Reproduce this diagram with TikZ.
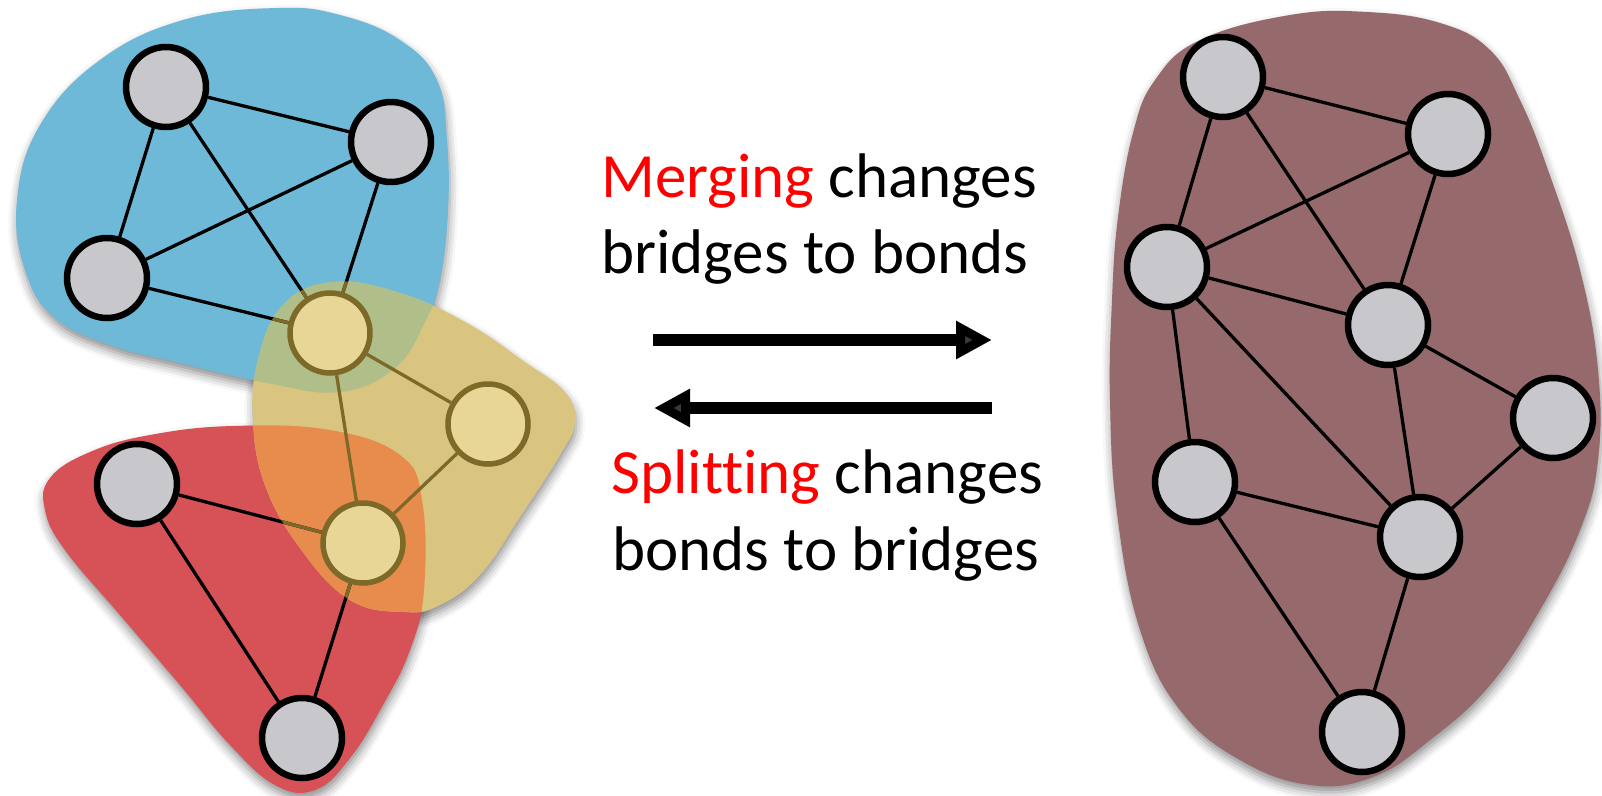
\documentclass[tikz,border=0pt]{standalone}
\usepackage{fontspec}
\setmainfont{Carlito}[Ligatures={NoCommon}]
\usetikzlibrary{arrows.meta,shadows.blur}
\pgfdeclarelayer{blobs}
\pgfdeclarelayer{links}
\pgfsetlayers{blobs,links,main}

\definecolor{cblue}{RGB}{110,185,215}
\definecolor{cred}{RGB}{214,82,86}
\definecolor{cyellow}{RGB}{218,197,128}
\definecolor{cgreen}{RGB}{176,190,138}
\definecolor{corange}{RGB}{232,140,78}
\definecolor{cmauve}{RGB}{150,106,108}
\definecolor{cgrey}{RGB}{200,200,204}
\definecolor{colive}{RGB}{125,105,40}
\definecolor{cpale}{RGB}{231,214,150}
\definecolor{cword}{RGB}{255,0,0}

\newcommand{\blueblob}{plot[smooth cycle,tension=0.7] coordinates {(277,8) (340,15) (400,40) (437,80) (447,140) (448,210) (440,280) (425,322) (395,368) (340,392) (267,383) (167,360) (110,345) (55,318) (25,270) (17,200) (40,125) (100,60) (183,20)}}
\newcommand{\yellowblob}{plot[smooth cycle,tension=0.7] coordinates {(253,420) (258,360) (283,305) (333,282) (400,293) (467,323) (525,362) (565,392) (575,422) (560,455) (520,517) (480,575) (440,605) (405,612) (350,600) (300,548) (265,485)}}
\newcommand{\redblob}{plot[smooth cycle,tension=0.7] coordinates {(50,478) (90,452) (150,435) (233,426) (330,430) (400,455) (422,500) (424,590) (410,650) (383,705) (350,758) (315,790) (275,785) (230,745) (180,685) (120,615) (65,550) (45,510)}}
\newcommand{\mauveblob}{plot[smooth cycle,tension=0.7] coordinates {(1112,300) (1118,217) (1133,133) (1155,80) (1200,40) (1290,15) (1367,12) (1440,23) (1490,50) (1520,100) (1548,170) (1580,270) (1598,370) (1598,460) (1580,530) (1540,610) (1490,685) (1430,740) (1373,777) (1310,785) (1240,760) (1180,710) (1140,630) (1117,513) (1110,400)}}

\begin{document}
\begin{tikzpicture}[x=1pt,y=-1pt,line cap=round,line join=round,
  vtx/.style={circle,draw=black,fill=cgrey,line width=6.5pt,minimum size=80pt,inner sep=0pt},
  yvtx/.style={vtx,draw=colive,fill=cpale,line width=5.5pt},
  link/.style={line width=3.3pt,black},
  ylink/.style={line width=3.3pt,colive},
  lbl/.style={font=\fontsize{63}{75}\selectfont,anchor=base west,inner sep=0pt},
  bigarrow/.style={line width=12pt,line cap=butt,-{Triangle[length=36pt,width=36pt]}},
  blobshadow/.style={blur shadow={shadow xshift=1pt,shadow yshift=-6pt,shadow blur radius=9pt,shadow opacity=45}}]
\useasboundingbox (0,0) rectangle (1602,795);

% left: three groups
\node[vtx] (b1) at (166,87) {};
\node[vtx] (b2) at (391,142) {};
\node[vtx] (b3) at (107,278) {};
\node[yvtx] (y1) at (330,333) {};
\node[yvtx] (y2) at (488,424) {};
\node[yvtx] (y3) at (363,543) {};
\node[vtx] (r1) at (137,484) {};
\node[vtx] (r2) at (302,738) {};

% right: merged group
\node[vtx] (m1) at (1223,77) {};
\node[vtx] (m2) at (1448,134) {};
\node[vtx] (m3) at (1167,267) {};
\node[vtx] (m4) at (1388,325) {};
\node[vtx] (m5) at (1553,418) {};
\node[vtx] (m6) at (1195,482) {};
\node[vtx] (m7) at (1420,537) {};
\node[vtx] (m8) at (1362,732) {};

\begin{pgfonlayer}{blobs}
\path[blobshadow] \blueblob;
\path[blobshadow] \redblob;
\path[blobshadow] \yellowblob;
\path[blobshadow] \mauveblob;
\fill[cblue] \blueblob;
\fill[cred] \redblob;
\fill[cyellow] \yellowblob;
\fill[cmauve] \mauveblob;
\begin{scope}
  \clip \yellowblob;
  \fill[cgreen] \blueblob;
  \fill[corange] \redblob;
\end{scope}
\end{pgfonlayer}

\begin{pgfonlayer}{links}
\draw[link] (b1) -- (b2) (b1) -- (b3) (b2) -- (b3);
\draw[link] (b1) -- (y1) (b2) -- (y1) (b3) -- (y1);
\draw[link] (r1) -- (y3) (r1) -- (r2) (y3) -- (r2);
\begin{scope}
  \clip \yellowblob;
  \draw[ylink] (b1) -- (y1) (b2) -- (y1) (b3) -- (y1);
  \draw[ylink] (y1) -- (y2) (y1) -- (y3) (y2) -- (y3);
  \draw[ylink] (r1) -- (y3) (y3) -- (r2);
\end{scope}
\draw[link] (m1) -- (m2) (m1) -- (m3) (m1) -- (m4) (m2) -- (m3) (m2) -- (m4);
\draw[link] (m3) -- (m4) (m3) -- (m6) (m3) -- (m7) (m4) -- (m5) (m4) -- (m7);
\draw[link] (m5) -- (m7) (m6) -- (m7) (m6) -- (m8) (m7) -- (m8);
\end{pgfonlayer}

% middle: labels and arrows
\node[lbl] (t1) at (601,197) {\textcolor{cword}{Merging} changes};
\node[lbl] (t2) at (601,273) {bridges to bonds};
\node[lbl] (t3) at (611,493) {\textcolor{cword}{Splitting} changes};
\node[lbl] (t4) at (612,570) {bonds to bridges};
\coordinate (fwdA) at (653,340);
\coordinate (fwdB) at (992,340);
\coordinate (bwdA) at (992,408);
\coordinate (bwdB) at (654,408);
\draw[bigarrow] (fwdA) -- (fwdB);
\draw[bigarrow] (bwdA) -- (bwdB);
\end{tikzpicture}
\end{document}
